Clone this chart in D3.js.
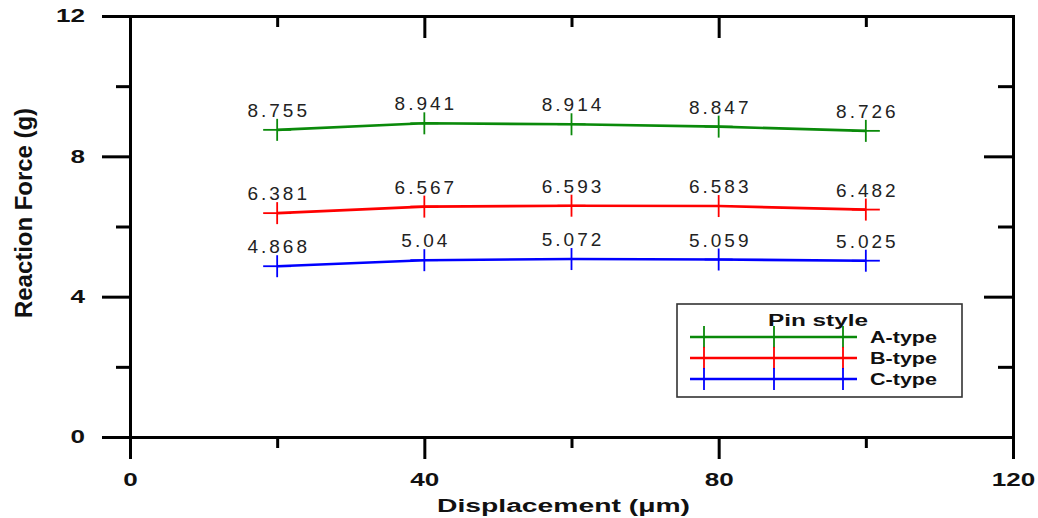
<!DOCTYPE html>
<html>
<head>
    <title>Reaction Force vs Displacement</title>
    <script src="https://d3js.org/d3.v7.min.js"></script>
    <style>
      body { margin: 0; background: #fff; }
    </style>
</head>
<body>
    <div id="chart"></div>
    <script>

const displacement = [20, 40, 60, 80, 100];
const aType = [8.755, 8.941, 8.914, 8.847, 8.726];
const bType = [6.381, 6.567, 6.593, 6.583, 6.482];
const cType = [4.868, 5.04, 5.072, 5.059, 5.025];

const seriesNames = ["A-type", "B-type", "C-type"];
const seriesColors = ["#0a8a0a", "#ff0000", "#0000ff"];

const xMajor = [0, 40, 80, 120];
const xMinor = [20, 60, 100];
const yMajor = [0, 4, 8, 12];
const yMinor = [2, 6, 10];

const width = 1038, height = 518;
const font = "'Liberation Sans', Arial, sans-serif";

const x = d3.scaleLinear().domain([0, 120]).range([130, 1013]);
const y = d3.scaleLinear().domain([0, 12]).range([437, 16]);

const series = [aType, bType, cType].map((vals, i) => ({
  name: seriesNames[i],
  color: seriesColors[i],
  points: vals.map((v, j) => ({x: displacement[j], y: v}))
}));

const svg = d3.create("svg")
    .attr("width", width)
    .attr("height", height)
    .attr("viewBox", [0, 0, width, height])
    .style("font-family", font);

// data lines
const line = d3.line().x(d => x(d.x)).y(d => y(d.y));

const g = svg.append("g");

g.selectAll("path.series")
  .data(series)
  .join("path")
    .attr("class", "series")
    .attr("fill", "none")
    .attr("stroke", d => d.color)
    .attr("stroke-width", 2.6)
    .attr("d", d => line(d.points));

// plus markers
function plus(sel, color) {
  sel.append("line").attr("x1", -14).attr("x2", 14).attr("y1", 0).attr("y2", 0);
  sel.append("line").attr("x1", 0).attr("x2", 0).attr("y1", -11).attr("y2", 11);
  sel.attr("stroke", color).attr("stroke-width", 1.8);
}

series.forEach(s => {
  const m = g.append("g").selectAll("g")
    .data(s.points)
    .join("g")
      .attr("transform", d => `translate(${x(d.x)},${y(d.y)})`);
  plus(m, s.color);
  m.append("text")
      .attr("y", -13)
      .attr("dx", 1.5)
      .attr("text-anchor", "middle")
      .attr("stroke", "none")
      .attr("fill", "#222")
      .style("font-size", "19px")
      .style("letter-spacing", "3px")
      .text(d => String(d.y));
});

// axes
function styleAxis(sel) {
  sel.select(".domain").attr("stroke-width", 3).attr("stroke-linecap", "square");
  sel.selectAll(".tick line").attr("stroke-width", 3);
  sel.selectAll(".tick text")
      .attr("fill", "#111")
      .style("font-size", "18px")
      .style("font-weight", "bold")
      .attr("textLength", d => String(d).length * 14.5)
      .attr("lengthAdjust", "spacingAndGlyphs");
}

svg.append("g")
    .attr("transform", `translate(0,${y(0)})`)
    .call(d3.axisBottom(x).tickValues(xMajor).tickSize(22).tickSizeOuter(0).tickPadding(14))
    .call(styleAxis);
svg.append("g")
    .attr("transform", `translate(0,${y(0)})`)
    .call(d3.axisBottom(x).tickValues(xMinor).tickSize(11).tickSizeOuter(0).tickFormat(""))
    .call(styleAxis);

svg.append("g")
    .attr("transform", `translate(0,${y(12)})`)
    .call(d3.axisTop(x).tickValues(xMajor).tickSize(-22).tickSizeOuter(0).tickFormat(""))
    .call(styleAxis);
svg.append("g")
    .attr("transform", `translate(0,${y(12)})`)
    .call(d3.axisTop(x).tickValues(xMinor).tickSize(-11).tickSizeOuter(0).tickFormat(""))
    .call(styleAxis);

svg.append("g")
    .attr("transform", `translate(${x(0)},0)`)
    .call(d3.axisLeft(y).tickValues(yMajor).tickSize(28).tickSizeOuter(0).tickPadding(17))
    .call(styleAxis);
svg.append("g")
    .attr("transform", `translate(${x(0)},0)`)
    .call(d3.axisLeft(y).tickValues(yMinor).tickSize(14).tickSizeOuter(0).tickFormat(""))
    .call(styleAxis);

svg.append("g")
    .attr("transform", `translate(${x(120)},0)`)
    .call(d3.axisRight(y).tickValues(yMajor).tickSize(-29).tickSizeOuter(0).tickFormat(""))
    .call(styleAxis);
svg.append("g")
    .attr("transform", `translate(${x(120)},0)`)
    .call(d3.axisRight(y).tickValues(yMinor).tickSize(-15).tickSizeOuter(0).tickFormat(""))
    .call(styleAxis);

// axis titles
svg.append("text")
    .attr("x", 437)
    .attr("y", 512)
    .attr("textLength", 253)
    .attr("lengthAdjust", "spacingAndGlyphs")
    .attr("fill", "#111")
    .style("font-size", "18px")
    .style("font-weight", "bold")
    .text("Displacement (μm)");

svg.append("text")
    .attr("transform", "translate(32,213) rotate(-90)")
    .attr("text-anchor", "middle")
    .attr("textLength", 210)
    .attr("lengthAdjust", "spacingAndGlyphs")
    .attr("fill", "#111")
    .style("font-size", "23px")
    .style("font-weight", "bold")
    .text("Reaction Force (g)");

// legend
const legend = svg.append("g").attr("transform", "translate(677,304)");
legend.append("rect")
    .attr("width", 285)
    .attr("height", 93)
    .attr("fill", "#fff")
    .attr("stroke", "#333")
    .attr("stroke-width", 1.6);
legend.append("text")
    .attr("x", 91)
    .attr("y", 22)
    .attr("textLength", 100)
    .attr("lengthAdjust", "spacingAndGlyphs")
    .attr("fill", "#111")
    .style("font-size", "16px")
    .style("font-weight", "bold")
    .text("Pin style");

series.forEach((s, i) => {
  const row = legend.append("g").attr("transform", `translate(0,${33 + i * 21})`);
  row.append("line")
      .attr("x1", 13).attr("x2", 180)
      .attr("stroke", s.color).attr("stroke-width", 2.6);
  [27, 97, 166].forEach(px => {
    const m = row.append("g").attr("transform", `translate(${px},0)`);
    plus(m, s.color);
  });
  row.append("text")
      .attr("x", 193)
      .attr("dy", "0.36em")
      .attr("textLength", 67)
      .attr("lengthAdjust", "spacingAndGlyphs")
      .attr("fill", "#111")
      .style("font-size", "16px")
      .style("font-weight", "bold")
      .text(s.name);
});

document.getElementById('chart').appendChild(svg.node());

    </script>
</body>
</html>
